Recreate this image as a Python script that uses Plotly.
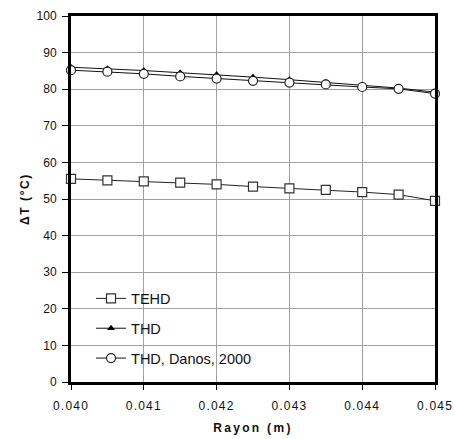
import plotly.graph_objects as go

rayon = [0.040, 0.0405, 0.041, 0.0415, 0.042, 0.0425, 0.043, 0.0435, 0.044, 0.0445, 0.045]
tehd = [55.5, 55.1, 54.8, 54.5, 54.0, 53.4, 52.9, 52.5, 51.9, 51.2, 49.5]
thd = [86.0, 85.6, 85.1, 84.5, 84.0, 83.3, 82.6, 81.9, 81.1, 80.3, 79.2]
danos = [85.2, 84.8, 84.2, 83.5, 82.9, 82.3, 81.8, 81.3, 80.6, 80.1, 78.8]
x_ticks = [0.040, 0.041, 0.042, 0.043, 0.044, 0.045]
x_labels = ["0.040", "0.041", "0.042", "0.043", "0.044", "0.045"]

font = "Liberation Sans, Arial, sans-serif"

fig = go.Figure()
fig.add_trace(go.Scatter(
    x=rayon, y=tehd, name="TEHD", mode="lines+markers", legendgroup="a",
    line=dict(color="#222222", width=1),
    marker=dict(symbol="square", size=9, color="white", line=dict(color="#333333", width=1.2)),
    cliponaxis=False))
fig.add_trace(go.Scatter(
    x=rayon, y=thd, name="THD", mode="lines+markers", legendgroup="b",
    line=dict(color="#111111", width=1),
    marker=dict(symbol="triangle-up", size=7, color="black", line=dict(color="black", width=0)),
    cliponaxis=False))
fig.add_trace(go.Scatter(
    x=rayon, y=danos, name="THD, Danos, 2000", mode="lines+markers", legendgroup="c",
    line=dict(color="#111111", width=1),
    marker=dict(symbol="circle", size=9, color="white", line=dict(color="#222222", width=1.2)),
    cliponaxis=False))

fig.update_layout(
    width=454, height=439,
    margin=dict(l=71, r=19, t=16, b=57, autoexpand=False),
    paper_bgcolor="white", plot_bgcolor="white",
    font=dict(family=font, size=12, color="#111111"),
    showlegend=True,
    legend=dict(x=0.055, y=0.272, xanchor="left", yanchor="top",
                bgcolor="rgba(0,0,0,0)", font=dict(size=14.5, family=font),
                tracegroupgap=8, itemwidth=30),
    xaxis=dict(
        range=[0.040, 0.045], tickvals=x_ticks, ticktext=x_labels,
        showgrid=True, gridcolor="#a0a0a0", gridwidth=1,
        showline=True, linecolor="black", linewidth=3, mirror=True,
        ticks="outside", ticklen=5, tickcolor="black", tickwidth=1,
        ticklabelstandoff=6,
        tickfont=dict(size=12, family=font),
        title=dict(text="<b>Rayon (m)</b>", font=dict(size=12, family=font), standoff=12),
        zeroline=False),
    yaxis=dict(
        range=[0, 100], dtick=10,
        showgrid=True, gridcolor="#a0a0a0", gridwidth=1,
        showline=True, linecolor="black", linewidth=3, mirror=True,
        ticks="outside", ticklen=6, tickcolor="black", tickwidth=1,
        ticklabelstandoff=3,
        tickfont=dict(size=12, family=font),
        title=dict(text="<b>ΔT (°C)</b>", font=dict(size=12, family=font), standoff=5),
        zeroline=False),
)

post = """
document.body.style.margin = '0';
document.querySelectorAll('.xtick text').forEach(function(e){e.style.letterSpacing='1.2px';});
document.querySelectorAll('.g-xtitle text').forEach(function(e){e.style.letterSpacing='2.3px';});
document.querySelectorAll('.g-ytitle text').forEach(function(e){e.style.letterSpacing='1.6px';});
"""

fig.write_html("out.html", post_script=post, config={"displayModeBar": False})
